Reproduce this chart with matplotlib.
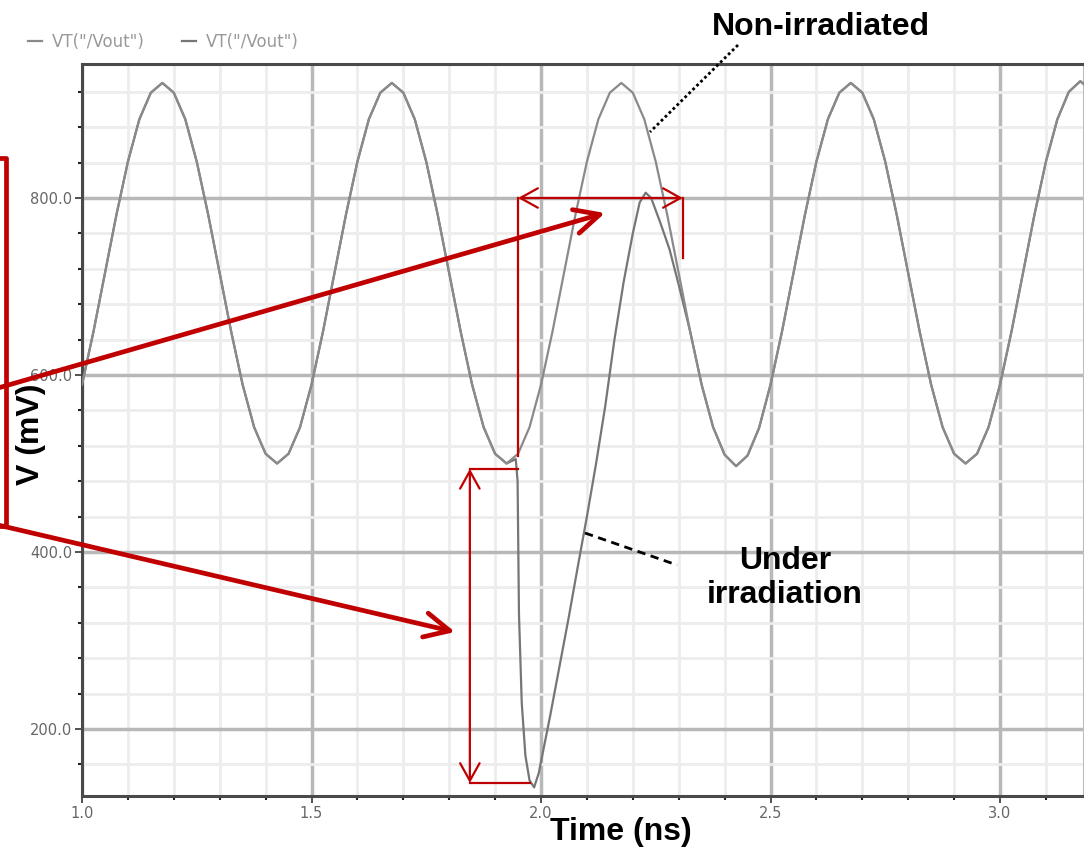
import matplotlib
matplotlib.use("Agg")
import matplotlib.pyplot as plt
from matplotlib.lines import Line2D
from matplotlib.ticker import MultipleLocator, FixedLocator, FixedFormatter

# time axis (step 0.025)
t_ns = [1.000, 1.025, 1.050, 1.075, 1.100, 1.125, 1.150,
        1.175, 1.200, 1.225, 1.250, 1.275, 1.300, 1.325, 1.350, 1.375, 1.400,
        1.425, 1.450, 1.475, 1.500, 1.525, 1.550, 1.575, 1.600, 1.625, 1.650,
        1.675, 1.700, 1.725, 1.750, 1.775, 1.800, 1.825, 1.850, 1.875, 1.900,
        1.925, 1.950, 1.975, 2.000, 2.025, 2.050, 2.075, 2.100, 2.125, 2.150,
        2.175, 2.200, 2.225, 2.250, 2.275, 2.300, 2.325, 2.350, 2.375, 2.400,
        2.425, 2.450, 2.475, 2.500, 2.525, 2.550, 2.575, 2.600, 2.625, 2.650,
        2.675, 2.700, 2.725, 2.750, 2.775, 2.800, 2.825, 2.850, 2.875, 2.900,
        2.925, 2.950, 2.975, 3.000, 3.025, 3.050, 3.075, 3.100, 3.125, 3.150,
        3.175, 3.200]

# non-irradiated output (mV)
v_normal = [589, 649, 715, 781, 841, 889, 919,
            930, 919, 889, 841, 781, 715, 649, 589, 541, 511,
            500, 511, 541, 589, 649, 715, 781, 841, 889, 919,
            930, 919, 889, 841, 781, 715, 649, 589, 541, 511,
            500, 511, 541, 589, 649, 715, 781, 841, 889, 919,
            930, 919, 889, 841, 781, 715, 649, 589, 541, 510,
            497, 509, 540, 589, 649, 715, 781, 841, 889, 919,
            930, 919, 889, 841, 781, 715, 649, 589, 541, 511,
            500, 511, 541, 589, 649, 715, 781, 841, 889, 920,
            932, 921]

# disturbed part of the irradiated output
t_hit = [1.945, 1.949, 1.952, 1.958, 1.966, 1.975, 1.985, 1.995, 2.020, 2.040,
         2.060, 2.080, 2.100, 2.120, 2.140, 2.160, 2.180, 2.200, 2.215, 2.228,
         2.240, 2.260, 2.280, 2.300]
v_hit = [505, 480, 330, 230, 170, 142, 134, 150, 215, 270,
         325, 383, 440, 500, 565, 640, 705, 760, 795, 806,
         800, 772, 742, 702]

t_irr = t_ns[:38] + t_hit + t_ns[53:]
v_irr = v_normal[:38] + v_hit + v_normal[53:]

x_ticks = [1.0, 1.5, 2.0, 2.5, 3.0]
x_labels = ["1.0", "1.5", "2.0", "2.5", "3.0"]
y_ticks = [200, 400, 600, 800]
y_labels = ["200.0", "400.0", "600.0", "800.0"]

W, H = 1084, 850
RED = "#c00000"
BIG = dict(family="Liberation Sans", weight="bold", size=23, color="black")


def fx(px):
    return px / W


def fy(py):
    return 1 - py / H


fig = plt.figure(figsize=(W / 100, H / 100), dpi=100)
ax = fig.add_axes([fx(82), fy(796), fx(1002), 732 / H])

l1, = ax.plot(t_irr, v_irr, color="#767676", lw=1.6, zorder=3)
l2, = ax.plot(t_ns, v_normal, color="#8a8a8a", lw=1.6, zorder=4)

ax.set_xlim(1.0, 3.183)
ax.set_ylim(124.3, 951.4)

ax.xaxis.set_major_locator(FixedLocator(x_ticks))
ax.xaxis.set_major_formatter(FixedFormatter(x_labels))
ax.xaxis.set_minor_locator(MultipleLocator(0.1))
ax.yaxis.set_major_locator(FixedLocator(y_ticks))
ax.yaxis.set_major_formatter(FixedFormatter(y_labels))
ax.yaxis.set_minor_locator(MultipleLocator(40))

ax.grid(which="major", color="#b8b8b8", lw=2.5, zorder=1)
ax.grid(which="minor", color="#ededed", lw=2.0, zorder=0)
ax.set_axisbelow(True)

for side in ["left", "bottom", "top"]:
    ax.spines[side].set_color("#4a4a4a")
    ax.spines[side].set_linewidth(2.2)
ax.spines["right"].set_color("#bdbdbd")
ax.spines["right"].set_linewidth(1.5)

ax.tick_params(which="major", length=5, width=1.2, color="#333333",
               labelsize=10.5, labelcolor="#666666", pad=2)
ax.tick_params(which="minor", length=3, width=1.5, color="#222222")
ax.tick_params(axis="x", which="both", top=False)

fig.legend([l2, l1], ['VT("/Vout")', 'VT("/Vout")'], loc="center left",
           bbox_to_anchor=(fx(28), fy(42)), ncol=2, frameon=False,
           borderpad=0, borderaxespad=0,
           fontsize=12, handlelength=0.85, handletextpad=0.6,
           columnspacing=2.2, labelcolor="#999999")

# measurement marks
thin = dict(arrowstyle="<->,head_length=0.45,head_width=0.25", color=RED,
            lw=1.6, shrinkA=0, shrinkB=0, mutation_scale=28)
ax.annotate("", xy=(1.950, 800), xytext=(2.309, 800), arrowprops=thin, zorder=6)
ax.annotate("", xy=(1.845, 494), xytext=(1.845, 139), arrowprops=thin, zorder=6)
ax.plot([1.950, 1.950], [800, 508], color=RED, lw=1.6, zorder=6)
ax.plot([2.309, 2.309], [800, 732], color=RED, lw=1.6, zorder=6)
ax.plot([1.845, 1.950], [494, 494], color=RED, lw=1.6, zorder=6)
ax.plot([1.845, 1.976], [139, 139], color=RED, lw=1.6, zorder=6)

# big red arrows from the cropped box on the left
thick = dict(arrowstyle="->,head_length=0.45,head_width=0.22", color=RED,
             lw=3.4, shrinkA=0, shrinkB=0, mutation_scale=40)
ax.annotate("", xy=(605, H - 213), xytext=(-2, H - 388),
            xycoords="figure pixels", arrowprops=thick, zorder=7)
ax.annotate("", xy=(455, H - 632), xytext=(-2, H - 525),
            xycoords="figure pixels", arrowprops=thick, zorder=7)
fig.add_artist(Line2D([fx(-2), fx(6), fx(6), fx(-2)],
                      [fy(158), fy(158), fy(526), fy(526)],
                      color=RED, lw=3.4, transform=fig.transFigure))

# labels
fig.text(fx(31), fy(434), "V (mV)", rotation=90, ha="center", va="center", **BIG)
fig.text(fx(621), fy(832), "Time (ns)", ha="center", va="center", **BIG)
fig.text(fx(821), fy(27), "Non-irradiated", ha="center", va="center", **BIG)
fig.text(fx(785), fy(578), "Under\nirradiation", ha="center", va="center",
         linespacing=1.15, **BIG)

fig.add_artist(Line2D([fx(738), fx(650)], [fy(45), fy(132)], color="black",
                      lw=2, ls=(0, (1, 1)), transform=fig.transFigure, zorder=8))
fig.add_artist(Line2D([fx(585), fx(677)], [fy(533), fy(565)], color="black",
                      lw=2, ls=(0, (3, 2)), transform=fig.transFigure, zorder=8))

fig.savefig("out.png", dpi=100)
